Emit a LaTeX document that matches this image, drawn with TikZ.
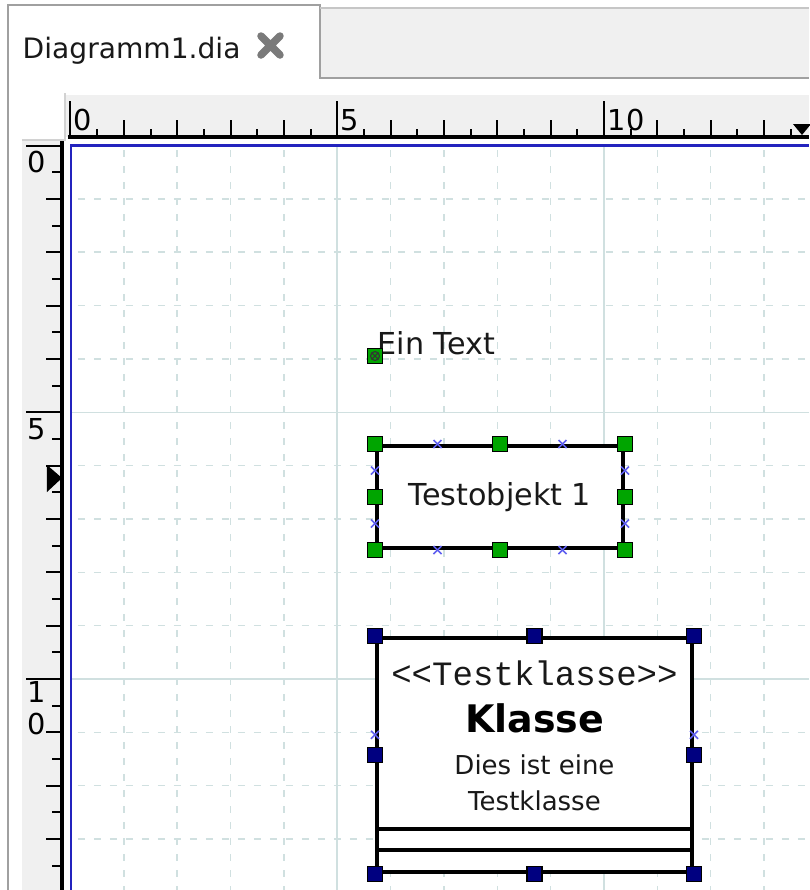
\documentclass[tikz,border=0pt]{standalone}
\usepackage{fontspec}
\setmainfont{DejaVu Sans}
\setmonofont{Liberation Mono}
\usetikzlibrary{calc}
\definecolor{gridline}{RGB}{208,224,224}
\definecolor{rulerbg}{RGB}{240,240,240}
\definecolor{handlegreen}{RGB}{0,165,0}
\definecolor{handlenavy}{RGB}{0,0,128}
\definecolor{cpblue}{RGB}{95,95,240}
\definecolor{canvasblue}{RGB}{35,35,190}
\definecolor{tabgray}{RGB}{160,160,160}
\begin{document}
\begin{tikzpicture}[x=0.1mm,y=-0.1mm]
    \tikzset{
      pics/handle/.style args={#1}{code={
        \draw[black,line width=0.18mm,fill=#1] (-7.5,-7.5) rectangle (7.5,7.5);
      },
    }
    }
    \tikzset{
      pics/cross/.style args={#1}{code={
        \draw[cpblue,line width=0.15mm] (-#1,-#1) -- (#1,#1)
          (-#1,#1) -- (#1,-#1);
        },
      }
    }
\tikzset{
  objbox/.style={draw,line width=0.4mm,inner sep=0,fill=white},
  objtext/.style={text=black!90,inner sep=0},
  rulernum/.style={inner sep=0,font=\fontsize{8.2}{9}\selectfont},
}
        \useasboundingbox (0,0) rectangle (809,890);
        \fill[white] (0,0) rectangle (809,890);

        %TAB
        \fill[rulerbg] (320,8) rectangle (809,78);
        \draw[tabgray,line width=0.2mm] (8,890) -- (8,5) -- (320,5) -- (320,78) -- (809,78);
        \draw[tabgray!60,line width=0.15mm] (320,8) -- (809,8);
        \node[objtext,anchor=base west,font=\fontsize{8}{9}\selectfont] (tab) at (22,58) {Diagramm1.dia};
        \draw[black!52,line width=0.75mm,line cap=round] (261,36) -- (280,55) (261,55) -- (280,36);

        %RULER X
        \fill[rulerbg] (66,95) rectangle (809,137);
        \draw[gray!35,line width=0.15mm] (22,140) -- (65,140) -- (65,93);
        \draw[black,line width=0.4mm] (68,137) -- (809,137);
        \foreach \i in {0,...,27} {
          \pgfmathsetmacro{\tx}{70.5+26.675*\i}
          \pgfmathsetmacro{\tl}{ifthenelse(mod(\i,10)==0,36,ifthenelse(mod(\i,2)==0,17,8))}
          \draw[black,line width=0.2mm] (\tx,137) -- ++(0,-\tl);
        }
        \node[rulernum,anchor=base west] (x0) at (73,130) {0};
        \node[rulernum,anchor=base west] (x5) at (340,130) {5};
        \node[rulernum,anchor=base west] (x10) at (607,130) {10};
        \fill[black] (793,124) -- (811,124) -- (802,135) -- cycle;

        %RULER Y
        \fill[rulerbg] (22,141) rectangle (62,890);
        \draw[black,line width=0.4mm] (62,141) -- (62,890);
        \foreach \i in {0,...,27} {
          \pgfmathsetmacro{\ty}{145.5+26.675*\i}
          \pgfmathsetmacro{\tl}{ifthenelse(mod(\i,10)==0,36,ifthenelse(mod(\i,2)==0,16,10))}
          \draw[black,line width=0.2mm] (62,\ty) -- ++(-\tl,0);
        }
        \node[rulernum,anchor=base west] (y0) at (27,172) {0};
        \node[rulernum,anchor=base west] (y5) at (27,439) {5};
        \node[rulernum,anchor=base west] (y1) at (27,702) {1};
        \node[rulernum,anchor=base west] (y10) at (27,734) {0};
        \fill[black] (47,465) -- (62,478) -- (47,492) -- cycle;

        %CANVAS
        \fill[white] (71,146) rectangle (809,890);
        \foreach \i in {1,...,13} {
          \pgfmathsetmacro{\gx}{70.5+53.35*\i}
          \pgfmathsetmacro{\gy}{145.5+53.35*\i}
          \ifnum\numexpr\i-5*(\i/5)\relax=0
            \draw[gridline,line width=0.15mm] (\gx,146) -- (\gx,890);
            \draw[gridline,line width=0.15mm] (71,\gy) -- (809,\gy);
          \else
            \draw[gridline,line width=0.15mm,dash pattern=on 0.7mm off 0.9mm] (\gx,150) -- (\gx,890);
            \draw[gridline,line width=0.15mm,dash pattern=on 0.7mm off 0.9mm] (78,\gy) -- (809,\gy);
          \fi
        }
        \draw[canvasblue,line width=0.25mm] (71,890) -- (71,145.5) -- (809,145.5);

      %TEXT OBJECT
      \node[objtext,anchor=base west,font=\fontsize{8.6}{10}\selectfont] (eintext) at (377,354) {Ein Text};
      \draw (375,356) pic {handle={handlegreen}};
      \draw[black!80,line width=0.12mm] (375,356) circle (4.5) (372,353) -- (378,359) (372,359) -- (378,353);

      %TESTOBJEKT
      \node[objbox,minimum width=24.6mm,minimum height=10.2mm,font=\fontsize{8.6}{10}\selectfont,text=black!90] (testobj) at (500,497) {Testobjekt 1};
      \foreach \p in {0.25,0.75} {
        \draw ($(testobj.north west)!\p!(testobj.north east)$) pic {cross={4}};
        \draw ($(testobj.south west)!\p!(testobj.south east)$) pic {cross={4}};
        \draw ($(testobj.north west)!\p!(testobj.south west)$) pic {cross={4}};
        \draw ($(testobj.north east)!\p!(testobj.south east)$) pic {cross={4}};
      }
      \foreach \a in {north west,north,north east,west,east,south west,south,south east}
        \draw (testobj.\a) pic {handle={handlegreen}};

      %KLASSE
      \node[objbox,minimum width=31.5mm,minimum height=23.4mm] (klasse) at (534.5,755) {};
      \coordinate (sep1) at (0,829);
      \coordinate (sep2) at (0,850);
      \draw[line width=0.4mm] (klasse.west |- sep1) -- (klasse.east |- sep1);
      \draw[line width=0.4mm] (klasse.west |- sep2) -- (klasse.east |- sep2);
      \node[objtext,font=\ttfamily\fontsize{9.7}{10}\selectfont] (stereo) at (534.5,673) {\textless\textless Testklasse\textgreater\textgreater};
      \node[objtext,font=\bfseries\fontsize{10.8}{12}\selectfont,text=black] (klname) at (534.5,718) {Klasse};
      \node[objtext,font=\fontsize{7.4}{9}\selectfont] (kldesc1) at (534.5,765) {Dies ist eine};
      \node[objtext,font=\fontsize{7.4}{9}\selectfont] (kldesc2) at (534.5,801) {Testklasse};
      \draw ($(klasse.north west)!0.415!(klasse.south west)$) pic {cross={4}};
      \draw ($(klasse.north east)!0.415!(klasse.south east)$) pic {cross={4}};
      \foreach \a in {north west,north,north east,west,east,south west,south,south east}
        \draw (klasse.\a) pic {handle={handlenavy}};
    \end{tikzpicture}
\end{document}
